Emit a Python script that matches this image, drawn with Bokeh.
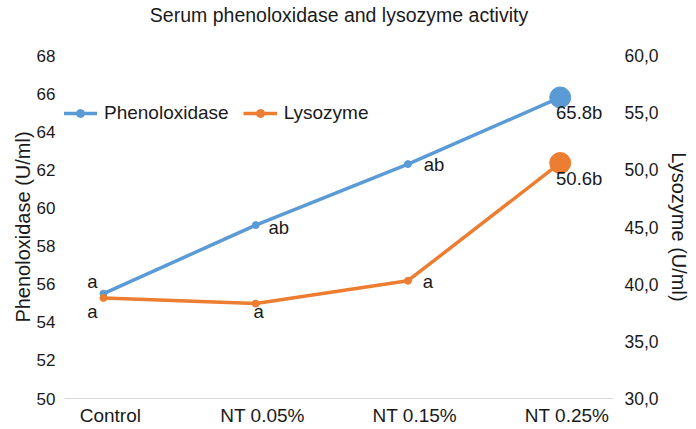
from bokeh.plotting import figure
from bokeh.models import (Range1d, LinearAxis, FixedTicker, ColumnDataSource,
                          Legend, LegendItem, Title)
from bokeh.embed import file_html
from bokeh.resources import INLINE
from bokeh.core.properties import value

# ---------------- data ----------------
categories = ["Control", "NT 0.05%", "NT 0.15%", "NT 0.25%"]
phenoloxidase = [55.5, 59.1, 62.3, 65.8]
lysozyme = [38.8, 38.3, 40.3, 50.6]
pheno_labels = ["a", "ab", "ab", "65.8b"]
lyso_labels = ["a", "a", "a", "50.6b"]
left_ticks = [50, 52, 54, 56, 58, 60, 62, 64, 66, 68]
right_ticks = [30, 35, 40, 45, 50, 55, 60]
right_tick_labels = ["30,0", "35,0", "40,0", "45,0", "50,0", "55,0", "60,0"]
title_text = "Serum phenoloxidase and lysozyme activity"

# ---------------- style ----------------
marker_sizes = [7, 7, 7, 21]
pheno_dx = [-11, 23, 26, 19]
pheno_dy = [-12, 2, 0, 15]
lyso_dx = [-11, 3, 20, 19]
lyso_dy = [14, 8, 1, 16]

FONT = "Liberation Sans"
BLUE = "#5B9BD5"
ORANGE = "#ED7D31"
TXT = "#1a1a1a"

x = list(range(len(categories)))

p = figure(width=696, height=429, output_backend="svg", toolbar_location=None,
           x_range=Range1d(-0.256, 3.35), y_range=Range1d(50, 68),
           x_axis_location=None, y_axis_location=None,
           min_border_left=64, min_border_right=83, min_border_top=55,
           min_border_bottom=31)
p.extra_y_ranges = {"lyso": Range1d(30, 60)}
p.extra_x_ranges = {"cat": Range1d(-0.256 - 0.045, 3.35 - 0.045)}
p.outline_line_color = None
p.grid.grid_line_color = None
p.background_fill_color = "white"
p.border_fill_color = "white"

# spacer between plot area and title, then the title itself
p.add_layout(Title(text=" ", text_font_size="1px", standoff=27), "above")
p.add_layout(Title(text=title_text, text_font=FONT, text_font_size="19.5px",
                   text_font_style="normal", text_color=TXT, align="center",
                   standoff=0), "above")

# axes
xaxis = LinearAxis(x_range_name="cat", ticker=FixedTicker(ticks=x),
                   major_label_overrides={i: c for i, c in enumerate(categories)})
p.add_layout(xaxis, "below")
yl = LinearAxis(ticker=FixedTicker(ticks=left_ticks), axis_label="Phenoloxidase (U/ml)")
p.add_layout(yl, "left")
yr = LinearAxis(y_range_name="lyso", ticker=FixedTicker(ticks=right_ticks),
                major_label_overrides={t: s for t, s in zip(right_ticks, right_tick_labels)},
                axis_label="Lysozyme (U/ml)")
p.add_layout(yr, "right")

for ax in (xaxis, yl, yr):
    ax.major_tick_line_color = None
    ax.minor_tick_line_color = None
    ax.major_label_text_font = FONT
    ax.major_label_text_color = TXT
    ax.axis_label_text_font = FONT
    ax.axis_label_text_font_size = "20px"
    ax.axis_label_text_font_style = "normal"
    ax.axis_label_text_color = TXT
    ax.major_tick_out = 0
    ax.major_tick_in = 0
xaxis.major_label_text_font_size = "19px"
yl.major_label_text_font_size = "17px"
yr.major_label_text_font_size = "17.5px"
yl.axis_line_color = None
yr.axis_line_color = None
xaxis.axis_line_color = "#D9D9D9"
xaxis.axis_line_width = 1
xaxis.major_label_standoff = 6
yl.major_label_standoff = 9
yl.axis_label_standoff = 0
yr.major_label_standoff = 11
yr.axis_label_standoff = 6

# series
src_p = ColumnDataSource(dict(x=x, y=phenoloxidase, size=marker_sizes,
                              lab=pheno_labels, dx=pheno_dx, dy=pheno_dy))
src_l = ColumnDataSource(dict(x=x, y=lysozyme, size=marker_sizes,
                              lab=lyso_labels, dx=lyso_dx, dy=lyso_dy))

l1 = p.line("x", "y", source=src_p, color=BLUE, line_width=3.5)
s1 = p.scatter("x", "y", source=src_p, size="size", color=BLUE)
l2 = p.line("x", "y", source=src_l, color=ORANGE, line_width=3.5, y_range_name="lyso")
s2 = p.scatter("x", "y", source=src_l, size="size", color=ORANGE, y_range_name="lyso")

for src, yr_name in ((src_p, "default"), (src_l, "lyso")):
    p.text("x", "y", text="lab", source=src, x_offset="dx", y_offset="dy",
           text_align="center", text_baseline="middle",
           text_font=value(FONT), text_font_size="18.5px", text_color=TXT,
           y_range_name=yr_name)

legend = Legend(items=[LegendItem(label="Phenoloxidase", renderers=[l1, s1]),
                       LegendItem(label="Lysozyme", renderers=[l2, s2])],
                orientation="horizontal", location=(-1, 274),
                glyph_width=34, glyph_height=20, label_standoff=7, spacing=14,
                padding=0, margin=0, border_line_color=None,
                background_fill_alpha=0,
                label_text_font=FONT, label_text_font_size="19px",
                label_text_color=TXT)
p.add_layout(legend)

open("out.html", "w").write(file_html(p, INLINE))
